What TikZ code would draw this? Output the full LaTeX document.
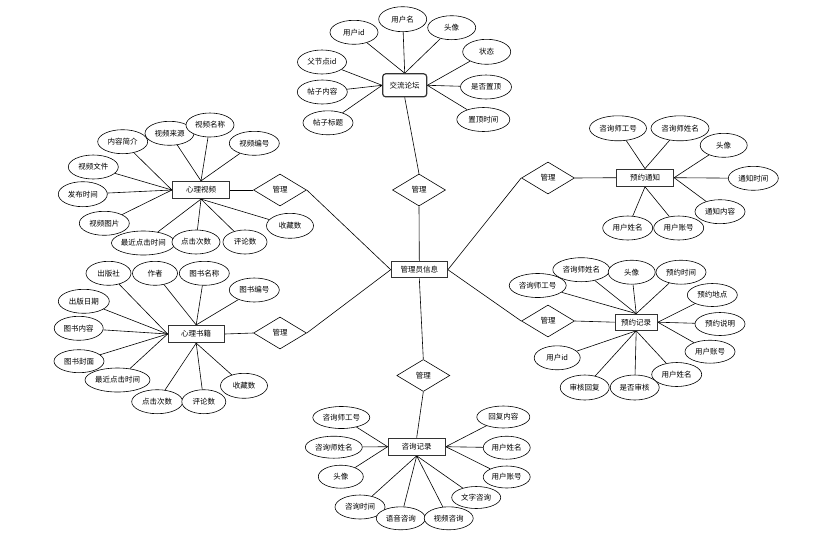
\documentclass[tikz,border=0pt]{standalone}
\usepackage{fontspec}
\newfontfamily\cjk{Noto Sans CJK SC}
\usetikzlibrary{shapes.geometric,backgrounds}
\begin{document}
\begin{tikzpicture}[x=1pt,y=-1pt,
 txt/.style={font=\cjk\fontsize{7.5}{8.5}\selectfont},
 attr/.style={ellipse,draw,fill=white,line width=0.6pt,minimum width=48pt,minimum height=24pt,inner sep=0pt,txt},
 wide/.style={minimum width=57pt},
 ent/.style={rectangle,draw=black!80,line width=1.2pt,fill=white,minimum width=57pt,minimum height=17pt,inner sep=0pt,txt},
 rel/.style={diamond,draw,line width=0.6pt,fill=white,minimum width=53pt,minimum height=32pt,inner sep=0pt,txt},
 conn/.style={line width=0.6pt}
]
\useasboundingbox (0,0) rectangle (826,536);

% central
\node[ent,minimum width=56pt,minimum height=16pt] (M) at (419.3,269.7) {管理员信息};
\node[rel] (D1) at (419,190) {管理};
\node[rel] (D2) at (280,190) {管理};
\node[rel] (D3) at (280,333) {管理};
\node[rel] (D4) at (548,178) {管理};
\node[rel] (D5) at (548,321) {管理};
\node[rel] (D6) at (423.3,375.5) {管理};

% top cluster
\node[ent,rounded corners=3pt,minimum width=44pt,minimum height=23pt] (T) at (404.7,85.3) {交流论坛};
\node[attr] (t1) at (354,32.3) {用户id};
\node[attr,minimum height=25pt] (t2) at (402.7,19.2) {用户名};
\node[attr] (t3) at (451.7,27.7) {头像};
\node[attr,minimum height=25pt] (t4) at (486.7,51.8) {状态};
\node[attr,minimum width=51pt] (t5) at (486,87) {是否置顶};
\node[attr,minimum width=53pt] (t6) at (483.3,119.5) {置顶时间};
\node[attr,minimum width=49pt] (t7) at (322,62) {父节点id};
\node[attr,minimum width=50pt] (t8) at (322.3,92) {帖子内容};
\node[attr,minimum width=50pt] (t9) at (328,122.8) {帖子标题};

% left-top cluster
\node[ent] (V) at (201,190) {心理视频};
\node[attr,minimum width=50pt] (v1) at (122.7,141.7) {内容简介};
\node[attr,minimum width=49pt] (v2) at (169.5,133.3) {视频来源};
\node[attr] (v3) at (210,125) {视频名称};
\node[attr,minimum width=50pt] (v4) at (254.3,143.3) {视频编号};
\node[attr,minimum width=50pt] (v5) at (93.3,167) {视频文件};
\node[attr,minimum width=49pt,minimum height=25pt] (v6) at (82.8,194.2) {发布时间};
\node[attr,minimum width=50pt] (v7) at (104.3,223.3) {视频图片};
\node[attr,wide] (v8) at (143.3,243) {最近点击时间};
\node[attr] (v9) at (196,242) {点击次数};
\node[attr,minimum width=44pt] (v10) at (245,242) {评论数};
\node[attr,minimum width=47pt,minimum height=25pt] (v11) at (290,225.8) {收藏数};

% left-bottom cluster
\node[ent,minimum width=56pt] (B) at (196.2,334) {心理书籍};
\node[attr,minimum width=45pt] (b1) at (108.5,273.3) {出版社};
\node[attr,minimum width=45pt] (b2) at (155,273.3) {作者};
\node[attr,minimum width=50pt] (b3) at (204.3,273.3) {图书名称};
\node[attr,minimum width=50pt] (b4) at (254.3,290) {图书编号};
\node[attr,minimum width=51pt] (b5) at (83.8,301.3) {出版日期};
\node[attr,minimum width=49pt] (b6) at (78.7,328.3) {图书内容};
\node[attr,minimum width=50pt,minimum height=23pt] (b7) at (79,361.2) {图书封面};
\node[attr,minimum width=65pt] (b8) at (117.5,380) {最近点击时间};
\node[attr,minimum width=51pt] (b9) at (157.2,401.7) {点击次数};
\node[attr,minimum width=44pt] (b10) at (203.8,401.7) {评论数};
\node[attr,minimum width=47pt,minimum height=25pt] (b11) at (244,385.8) {收藏数};

% right-top cluster
\node[ent] (N) at (645,177.7) {预约通知};
\node[attr,wide,minimum height=25pt] (n1) at (618,128.3) {咨询师工号};
\node[attr,minimum width=58pt,minimum height=25pt] (n2) at (680,128.3) {咨询师姓名};
\node[attr,minimum width=47pt] (n3) at (723.7,145.3) {头像};
\node[attr,minimum width=50pt] (n4) at (753.3,178.3) {通知时间};
\node[attr,minimum width=50pt] (n5) at (720,211.7) {通知内容};
\node[attr,minimum width=50pt] (n6) at (627.7,228) {用户姓名};
\node[attr,minimum width=50pt] (n7) at (678.7,228) {用户账号};

% right-bottom cluster
\node[ent,minimum width=42pt,minimum height=16pt] (R) at (636.2,322.2) {预约记录};
\node[attr,wide] (r2) at (537.7,285.5) {咨询师工号};
\node[attr,wide] (r1) at (581.3,269.7) {咨询师姓名};
\node[attr,minimum width=47pt] (r3) at (631.7,272.2) {头像};
\node[attr,minimum width=50pt] (r4) at (681,272.2) {预约时间};
\node[attr,minimum width=50pt,minimum height=23pt] (r5) at (712.3,295) {预约地点};
\node[attr,minimum width=50pt,minimum height=23pt] (r6) at (720,324) {预约说明};
\node[attr,minimum width=50pt,minimum height=23pt] (r7) at (710,351.7) {用户账号};
\node[attr,minimum width=50pt] (r8) at (676.7,374.5) {用户姓名};
\node[attr,minimum width=49pt,minimum height=25pt] (r10) at (584.7,387.5) {审核回复};
\node[attr,minimum width=49pt,minimum height=25pt] (r9) at (634.7,387.5) {是否审核};
\node[attr,minimum width=46pt] (r11) at (557.2,357.8) {用户id};

% bottom cluster
\node[ent] (C) at (416.7,446.7) {咨询记录};
\node[attr,wide,minimum height=22pt] (c1) at (341.3,417.5) {咨询师工号};
\node[attr,wide,minimum height=22pt] (c2) at (333.8,447.2) {咨询师姓名};
\node[attr,minimum width=45pt,minimum height=23pt] (c3) at (340.8,476.7) {头像};
\node[attr,minimum width=50pt] (c4) at (360,507) {咨询时间};
\node[attr,minimum width=49pt,minimum height=23pt] (c5) at (400.8,518.3) {语音咨询};
\node[attr,minimum width=49pt,minimum height=23pt] (c6) at (448.7,518.3) {视频咨询};
\node[attr,minimum width=49pt,minimum height=22pt] (c7) at (476.2,497.5) {文字咨询};
\node[attr,minimum width=47pt,minimum height=22pt] (c8) at (506.7,477) {用户账号};
\node[attr,minimum width=47pt,minimum height=23pt] (c9) at (506.7,447.7) {用户姓名};
\node[attr,minimum width=53pt,minimum height=22pt] (c10) at (503.3,417) {回复内容};

\begin{scope}[on background layer]
\fill[white] (0,0) rectangle (826,536);
% central links
\draw[conn] (T.south) -- (D1.north);
\draw[conn] (D1.south) -- (M.north);
\draw[conn] (D2.east) -- (M.west);
\draw[conn] (D3.east) -- (M.west);
\draw[conn] (D4.west) -- (M.east);
\draw[conn] (D5.west) -- (M.east);
\draw[conn] (M.south) -- (D6.north);
\draw[conn] (V.east) -- (D2.west);
\draw[conn] (B.east) -- (D3.west);
\draw[conn] (D4.east) -- (N.west);
\draw[conn] (D5.east) -- (R.west);
\draw[conn] (D6.south) -- (C.north);
% top
\foreach \a in {t1,t2,t3} \draw[conn] (\a) -- (T.north);
\foreach \a in {t4,t5,t6} \draw[conn] (\a) -- (T.east);
\foreach \a in {t7,t8,t9} \draw[conn] (\a) -- (T.west);
% left-top
\foreach \a in {v1,v5,v6,v7} \draw[conn] (\a) -- (V.west);
\foreach \a in {v2,v3,v4} \draw[conn] (\a) -- (V.north);
\foreach \a in {v8,v9,v10,v11} \draw[conn] (\a) -- (V.south);
% left-bottom
\foreach \a in {b1,b5,b6,b7,b8} \draw[conn] (\a) -- (B.west);
\foreach \a in {b2,b3,b4} \draw[conn] (\a) -- (B.north);
\foreach \a in {b9,b10,b11} \draw[conn] (\a) -- (B.south);
% right-top
\foreach \a in {n1,n2} \draw[conn] (\a) -- (N.north);
\foreach \a in {n3,n4,n5} \draw[conn] (\a) -- (N.east);
\foreach \a in {n6,n7} \draw[conn] (\a) -- (N.south);
% right-bottom
\foreach \a in {r1,r2,r3,r4} \draw[conn] (\a) -- (R.north);
\foreach \a in {r5,r6,r7} \draw[conn] (\a) -- (R.east);
\foreach \a in {r8,r9,r10,r11} \draw[conn] (\a) -- (R.south);
% bottom
\foreach \a in {c1,c2,c3} \draw[conn] (\a) -- (C.west);
\foreach \a in {c4,c5,c6,c7} \draw[conn] (\a) -- (C.south);
\foreach \a in {c8,c9,c10} \draw[conn] (\a) -- (C.east);
\end{scope}
\end{tikzpicture}
\end{document}
